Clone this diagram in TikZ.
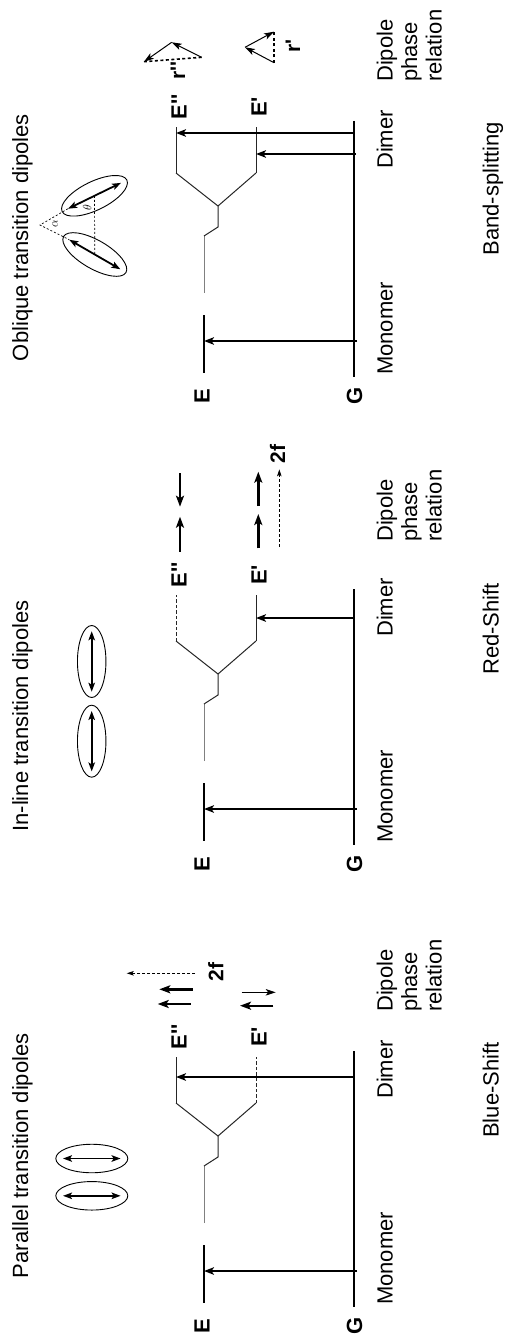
\documentclass[tikz,border=0pt]{standalone}
\usepackage{fontspec}
\setmainfont{Liberation Sans}
\newfontfamily\labfont{Liberation Sans}
\usetikzlibrary{arrows.meta,shapes.geometric,calc}

\tikzset{
  lbl/.style={rotate=90, anchor=base, inner sep=0pt, font=\fontsize{22}{26}\selectfont},
  blbl/.style={rotate=90, anchor=base, inner sep=0pt, font=\labfont\bfseries\fontsize{22}{26}\selectfont},
  slbl/.style={rotate=90, anchor=base, inner sep=0pt, font=\labfont\bfseries\fontsize{21}{24}\selectfont},
  mathlbl/.style={rotate=90, inner sep=0pt, font=\fontsize{12}{14}\selectfont},
  level/.style={line width=2.2pt},
  thinlevel/.style={line width=1pt, black!85},
  greylevel/.style={line width=1pt, black!50},
  dashlevel/.style={dash pattern=on 3.5pt off 2pt},
  trans/.style={line width=2pt, -{Stealth[length=10pt,width=7.5pt,inset=2.5pt]}},
  phasearrow/.style={line width=2.4pt, -{Stealth[length=11pt,width=8pt,inset=2.5pt]}},
  thinarrow/.style={line width=1pt, -{Stealth[length=10pt,width=6.5pt,inset=2.5pt]}},
  dasharrow/.style={line width=1pt, dash pattern=on 3pt off 2pt, -{Stealth[length=7pt,width=4.5pt,inset=1.5pt]}},
  resultant/.style={line width=1.6pt, dash pattern=on 3pt off 2.5pt},
  anglehelp/.style={line width=0.7pt, dash pattern=on 2pt off 2pt},
  molecule/.style={draw, ellipse, line width=0.9pt, inner sep=0pt, outer sep=0pt, minimum width=72pt, minimum height=28.5pt},
  dipole/.style={line width=1.8pt, {Stealth[length=9pt,width=6.5pt,inset=2pt]}-{Stealth[length=9pt,width=6.5pt,inset=2pt]}},
}

\newcommand{\panellevels}[3]{%
  \coordinate (#1Gt) at (354,-256);
  \coordinate (#1Gb) at (354,0);
  \coordinate (#1Et) at (204,-62);
  \coordinate (#1Eb) at (204,-4);
  \coordinate (#1m0) at (204,-84);
  \coordinate (#1m1) at (204,-141);
  \coordinate (#1m2) at (218,-150);
  \coordinate (#1m3) at (218,-171);
  \coordinate (#1A0) at (176,-204);
  \coordinate (#1A1) at (176,-250);
  \coordinate (#1B0) at (256,-204);
  \coordinate (#1B1) at (256,-250);
  \coordinate (#1ms) at (357,-36);
  \coordinate (#1me) at (204,-36);
  \draw[level] (#1Gt) -- (#1Gb);
  \draw[level] (#1Et) -- (#1Eb);
  \draw[greylevel] (#1m0) -- (#1m1);
  \draw[thinlevel] (#1m1) -- (#1m2) -- (#1m3) -- (#1A0);
  \draw[thinlevel] (#1m3) -- (#1B0);
  \draw[thinlevel,#2] (#1A0) -- (#1A1);
  \draw[thinlevel,#3] (#1B0) -- (#1B1);
  \draw[trans] (#1ms) -- (#1me);
  \node[blbl] (#1lE) at (209.5,19) {E};
  \node[blbl] (#1lG) at (362,19) {G};
  \node[blbl] (#1lEpp) at (186.5,-270) {E''};
  \node[blbl] (#1lEp) at (266.5,-270) {E'};
  \node[lbl] (#1mono) at (392.5,-48.5) {Monomer};
  \node[lbl] (#1dim) at (392.5,-237.5) {Dimer};
}

\begin{document}
\begin{tikzpicture}[x=1pt,y=-1pt]
\fill[white] (0,0) rectangle (507,1337);
\useasboundingbox (0,0) rectangle (507,1337);

% ---------------- Panel 1: oblique ----------------
\begin{scope}[shift={(0,377)}]
  \panellevels{a}{}{}
  \coordinate (aT1s) at (354,-244); \coordinate (aT1e) at (176,-244);
  \draw[trans] (aT1s) -- (aT1e);
  \coordinate (aT2s) at (356,-223); \coordinate (aT2e) at (256,-223);
  \draw[trans] (aT2s) -- (aT2e);
  \node[lbl] (aTitle) at (28,-139.5) {Oblique transition dipoles};
  \node[lbl] (aShift) at (498.5,-188) {Band-splitting};
  \node[lbl,anchor=base west] (aPh1) at (392.5,-295) {Dipole};
  \node[lbl,anchor=base west] (aPh2) at (417,-295) {phase};
  \node[lbl,anchor=base west] (aPh3) at (441.5,-295) {relation};
\end{scope}
\node[molecule, rotate=26] (aD1) at (94.5,195.8) {};
\node[molecule, rotate=-30] (aD2) at (94.8,254.5) {};
\coordinate (aD1w) at ($(aD1.west)!0.09!(aD1.east)$);
\coordinate (aD1e) at ($(aD1.west)!0.91!(aD1.east)$);
\coordinate (aD2w) at ($(aD2.west)!0.09!(aD2.east)$);
\coordinate (aD2e) at ($(aD2.west)!0.91!(aD2.east)$);
\draw[dipole] (aD1w) -- (aD1e);
\draw[dipole] (aD2w) -- (aD2e);
\coordinate (aApex) at (40,225);
\draw[anglehelp] (aD1w) -- (aApex) -- (aD2w);
\draw[anglehelp] (aD1.center) -- (aD2.center);
\node[mathlbl] (aTheta) at (87.3,207.7) {$\theta$};
\node[mathlbl] (aAlpha) at (55,223.3) {$\alpha$};
% phase vectors E''
\coordinate (aVA) at (201.7,57.3);
\coordinate (aVB) at (171.7,42.3);
\coordinate (aVC) at (144,61.7);
\draw[resultant] (aVA) -- (aVC);
\draw[thinarrow] (aVA) -- (aVB);
\draw[thinarrow] (aVB) -- (aVC);
\node[slbl] (aR2) at (185,70.5) {r''};
% phase vectors E'
\coordinate (aVD) at (274,62.7);
\coordinate (aVF) at (245,47.3);
\coordinate (aVH) at (274,31.7);
\draw[resultant] (aVD) -- (aVH);
\draw[thinarrow] (aVD) -- (aVF);
\draw[thinarrow] (aVF) -- (aVH);
\node[slbl] (aR1) at (300,46) {r'};

% ---------------- Panel 2: in-line ----------------
\begin{scope}[shift={(0,845)}]
  \panellevels{b}{dashlevel}{}
  \coordinate (bT1s) at (354,-227); \coordinate (bT1e) at (256,-227);
  \draw[trans] (bT1s) -- (bT1e);
  \node[lbl] (bTitle) at (28,-129) {In-line transition dipoles};
  \node[lbl] (bShift) at (498.5,-216) {Red-Shift};
  \node[lbl,anchor=base west] (bPh1) at (392.5,-303) {Dipole};
  \node[lbl,anchor=base west] (bPh2) at (417,-303) {phase};
  \node[lbl,anchor=base west] (bPh3) at (441.5,-303) {relation};
\end{scope}
\node[molecule, rotate=90] (bD1) at (91.7,661.5) {};
\node[molecule, rotate=90] (bD2) at (91.7,741.2) {};
\draw[dipole] ($(bD1.west)!0.08!(bD1.east)$) -- ($(bD1.west)!0.92!(bD1.east)$);
\draw[dipole] ($(bD2.west)!0.08!(bD2.east)$) -- ($(bD2.west)!0.92!(bD2.east)$);
\coordinate (bP1s) at (180,551.7); \coordinate (bP1e) at (180,516.7);
\coordinate (bP2s) at (180,473.3); \coordinate (bP2e) at (180,506.7);
\draw[phasearrow] (bP1s) -- (bP1e);
\draw[phasearrow] (bP2s) -- (bP2e);
\coordinate (bQ1s) at (258.3,548.3); \coordinate (bQ1e) at (258.3,514);
\coordinate (bQ2s) at (258.3,506); \coordinate (bQ2e) at (258.3,471.7);
\draw[phasearrow] (bQ1s) -- (bQ1e);
\draw[phasearrow] (bQ2s) -- (bQ2e);
\coordinate (bFs) at (279.3,546.7); \coordinate (bFe) at (279.3,469.3);
\draw[dasharrow] (bFs) -- (bFe);
\node[slbl] (b2f) at (285,454) {2f};

% ---------------- Panel 3: parallel ----------------
\begin{scope}[shift={(0,1307)}]
  \panellevels{c}{}{dashlevel}
  \coordinate (cT1s) at (354,-230); \coordinate (cT1e) at (176,-230);
  \draw[trans] (cT1s) -- (cT1e);
  \node[lbl] (cTitle) at (28,-151.3) {Parallel transition dipoles};
  \node[lbl] (cShift) at (498.5,-217) {Blue-Shift};
  \node[lbl,anchor=base west] (cPh1) at (392.5,-295) {Dipole};
  \node[lbl,anchor=base west] (cPh2) at (417,-295) {phase};
  \node[lbl,anchor=base west] (cPh3) at (441.5,-295) {relation};
\end{scope}
\node[molecule] (cD1) at (91.8,1158.5) {};
\node[molecule] (cD2) at (91.8,1195.8) {};
\draw[dipole] ($(cD1.west)!0.1!(cD1.east)$) -- ($(cD1.west)!0.9!(cD1.east)$);
\draw[dipole] ($(cD2.west)!0.1!(cD2.east)$) -- ($(cD2.west)!0.9!(cD2.east)$);
\coordinate (cP1s) at (192.7,989.3); \coordinate (cP1e) at (159.3,989.3);
\coordinate (cP2s) at (190.7,1004); \coordinate (cP2e) at (157.7,1004);
\draw[phasearrow] (cP1s) -- (cP1e);
\draw[phasearrow] (cP2s) -- (cP2e);
\coordinate (cFs) at (195,973.3); \coordinate (cFe) at (126.7,973.3);
\draw[dasharrow] (cFs) -- (cFe);
\node[slbl] (c2f) at (223.3,971.7) {2f};
\coordinate (cQ1s) at (241.7,992.3); \coordinate (cQ1e) at (275.7,992.3);
\draw[thinarrow] (cQ1s) -- (cQ1e);
\coordinate (cQ2s) at (273.3,1005.7); \coordinate (cQ2e) at (240,1005.7);
\draw[phasearrow] (cQ2s) -- (cQ2e);
\end{tikzpicture}
\end{document}
